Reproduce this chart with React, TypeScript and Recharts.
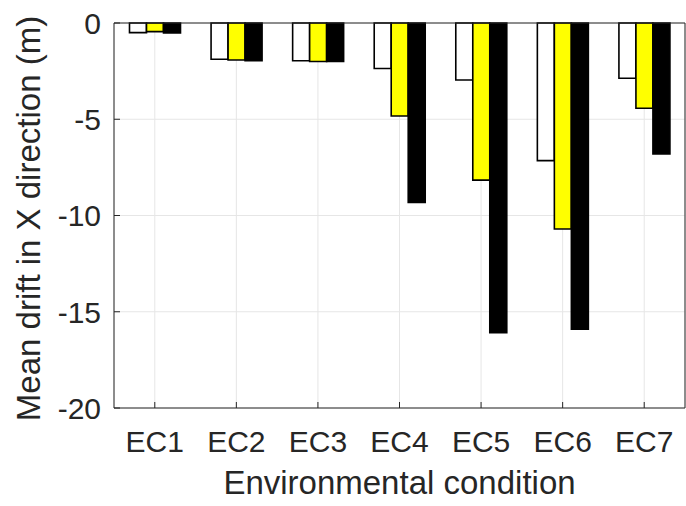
import React from "react";
import {
  BarChart,
  Bar,
  XAxis,
  YAxis,
  CartesianGrid,
  ReferenceLine,
} from "recharts";

const categories = ["EC1", "EC2", "EC3", "EC4", "EC5", "EC6", "EC7"];
const seriesWhite = [-0.5, -1.88, -1.96, -2.36, -2.96, -7.15, -2.87];
const seriesYellow = [-0.45, -1.92, -2.0, -4.83, -8.16, -10.7, -4.43];
const seriesBlack = [-0.52, -1.96, -2.0, -9.32, -16.09, -15.91, -6.8];
const yTicks = [-20, -15, -10, -5, 0];

const data = categories.map((name, i) => ({
  name,
  a: seriesWhite[i],
  b: seriesYellow[i],
  c: seriesBlack[i],
}));

const FONT = "'Liberation Sans', Arial, Helvetica, sans-serif";
const TXT = "#262626";
const AXIS = "#262626";

const LeftTick = (props: any) => {
  const { x, y, payload } = props;
  return (
    <g>
      <line x1={x} x2={x + 6} y1={y} y2={y} stroke={AXIS} strokeWidth={1} />
      <text
        x={x - 13}
        y={y}
        dy="0.36em"
        textAnchor="end"
        fontFamily={FONT}
        fontSize={30}
        fill={TXT}
      >
        {payload.value}
      </text>
    </g>
  );
};

const RightTick = (props: any) => {
  const { x, y } = props;
  return (
    <line x1={x} x2={x - 6} y1={y} y2={y} stroke={AXIS} strokeWidth={1} />
  );
};

const BottomTick = (props: any) => {
  const { x, y, payload } = props;
  return (
    <g>
      <line x1={x} x2={x} y1={y} y2={y - 6} stroke={AXIS} strokeWidth={1} />
      <text
        x={x}
        y={y + 44}
        textAnchor="middle"
        fontFamily={FONT}
        fontSize={30}
        fill={TXT}
      >
        {payload.value}
      </text>
    </g>
  );
};

const YLabel = (props: any) => {
  const vb = props.viewBox || {};
  const cy = (vb.y ?? 23) + (vb.height ?? 385) / 2 + 3;
  const cx = 40;
  return (
    <text
      x={cx}
      y={cy}
      transform={`rotate(-90, ${cx}, ${cy})`}
      textAnchor="middle"
      fontFamily={FONT}
      fontSize={33}
      fill={TXT}
    >
      Mean drift in X direction (m)
    </text>
  );
};

const XLabel = (props: any) => {
  const vb = props.viewBox || {};
  const cx = (vb.x ?? 114) + (vb.width ?? 571) / 2;
  return (
    <text
      x={cx}
      y={494}
      textAnchor="middle"
      fontFamily={FONT}
      fontSize={33}
      fill={TXT}
    >
      Environmental condition
    </text>
  );
};

export default function App() {
  return (
    <div style={{ position: "absolute", left: 0, top: 0, width: 686, height: 506, background: "#fff" }}>
      <BarChart
        width={686}
        height={506}
        data={data}
        margin={{ top: 23, right: 0, bottom: 0, left: 0 }}
        barCategoryGap="19%"
        barGap={0}
      >
        <CartesianGrid stroke="#e6e6e6" strokeWidth={1} yAxisId="left" xAxisId="bottom" />
        <XAxis
          xAxisId="bottom"
          dataKey="name"
          height={98}
          axisLine={{ stroke: AXIS, strokeWidth: 1 }}
          tickLine={false}
          tickSize={0}
          tickMargin={0}
          tick={<BottomTick />}
          interval={0}
          label={<XLabel />}
        />
        <YAxis
          yAxisId="left"
          width={114}
          domain={[-20, 0]}
          ticks={yTicks}
          axisLine={{ stroke: AXIS, strokeWidth: 1 }}
          tickLine={false}
          tickSize={0}
          tickMargin={0}
          tick={<LeftTick />}
          label={<YLabel />}
        />
        <YAxis
          yAxisId="right"
          orientation="right"
          width={1}
          domain={[-20, 0]}
          ticks={yTicks}
          axisLine={{ stroke: AXIS, strokeWidth: 1 }}
          tickLine={false}
          tickSize={0}
          tickMargin={0}
          tick={<RightTick />}
        />
        <Bar dataKey="a" xAxisId="bottom" yAxisId="left" fill="#ffffff" stroke="#000" strokeWidth={1.6} isAnimationActive={false} />
        <Bar dataKey="b" xAxisId="bottom" yAxisId="left" fill="#ffff00" stroke="#000" strokeWidth={1.6} isAnimationActive={false} />
        <Bar dataKey="c" xAxisId="bottom" yAxisId="left" fill="#000000" stroke="#000" strokeWidth={1.6} isAnimationActive={false} />
        <ReferenceLine y={0} xAxisId="bottom" yAxisId="left" stroke={AXIS} strokeWidth={1} ifOverflow="extendDomain" />
      </BarChart>
    </div>
  );
}
